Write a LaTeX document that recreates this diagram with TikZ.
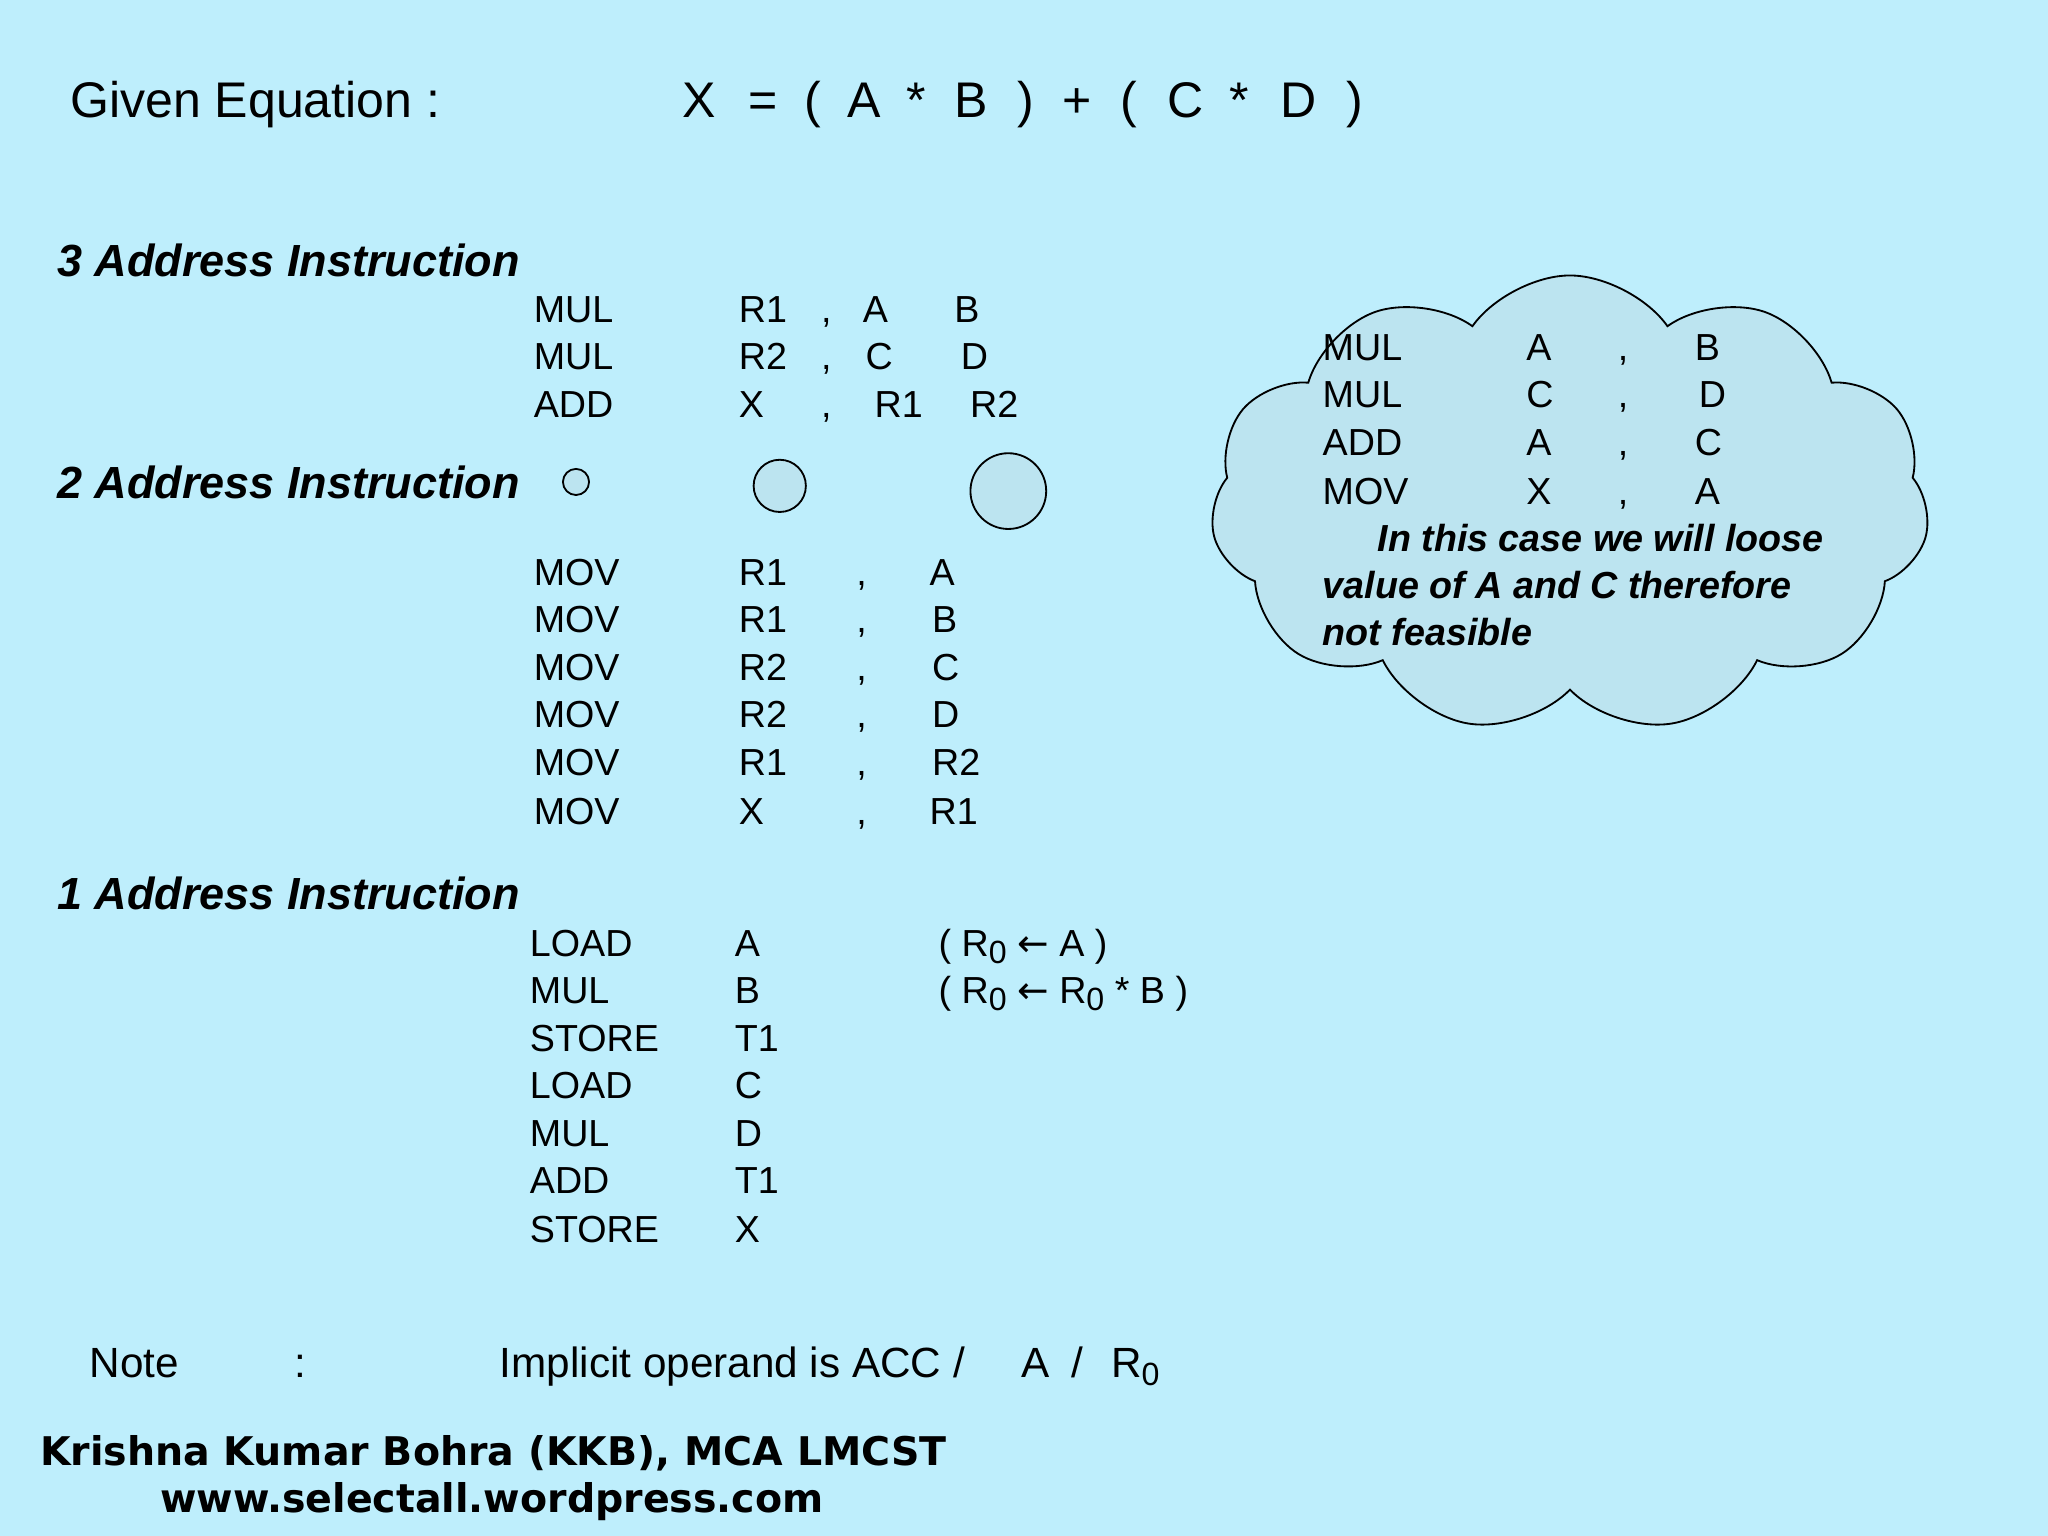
\documentclass[tikz,border=0pt]{standalone}
\usepackage{fontspec}
\setmainfont{Liberation Sans}
\newfontfamily\credfont{DejaVu Sans}
\usetikzlibrary{shapes.symbols}
\definecolor{bg}{RGB}{190,238,252}
\definecolor{cl}{RGB}{188,228,240}
\tikzset{tx/.style={anchor=base west,inner sep=0pt,font=\fontsize{8.2}{9}\selectfont},
 hd/.style={tx,font=\fontsize{9.8}{11}\selectfont\bfseries\itshape},
 big/.style={tx,font=\fontsize{10.9}{12}\selectfont},
 nt/.style={tx,font=\fontsize{9.2}{11}\selectfont},
 cr/.style={tx,font=\fontsize{8.6}{10}\selectfont\credfont\bfseries},
 ci/.style={tx,font=\fontsize{8.2}{9}\selectfont\bfseries\itshape}}
\newcommand\txt[4][tx]{\node[#1] at (#2,#3) {#4};}
\newcommand\sub[1]{\raisebox{-0.35ex}{\scriptsize #1}}
\newcommand\larr{{\credfont ←}}
\begin{document}
\begin{tikzpicture}[x=0.01cm,y=-0.01cm]
\fill[bg] (0,0) rectangle (1568,1176);
\useasboundingbox (0,0) rectangle (1568,1176);
\txt[big]{53}{90}{Given Equation :}
\foreach \x/\s in {522/X,572/=,615/(,648/A,693/*,730/B,778/),813/+,857/(,893/C,941/*,980/D,1030/)} {\txt[big]{\x}{90}{\s}}
\txt[hd]{43}{212}{3 Address Instruction}
\txt[hd]{43}{382}{2 Address Instruction}
\txt[hd]{43}{696}{1 Address Instruction}
% 3 address
\foreach \y/\a/\b/\c/\d/\cx/\dx in {247/MUL/R1/A/B/660/730,283/MUL/R2/C/D/662/735,320/ADD/X/R1/R2/669/742}
 {\txt{408}{\y}{\a}\txt{565}{\y}{\b}\txt{628}{\y}{,}\txt{\cx}{\y}{\c}\txt{\dx}{\y}{\d}}
% circles
\draw[fill=cl] (441,369) circle (10);
\draw[fill=cl] (597,372) circle (20);
\draw[fill=cl] (772,376) circle (29);
% 2 address
\foreach \y/\b/\d/\dx in {448/R1/A/711,484/R1/B/713,521/R2/C/713,557/R2/D/713,594/R1/R2/713,631/X/R1/711}
 {\txt{408}{\y}{MOV}\txt{565}{\y}{\b}\txt{655}{\y}{,}\txt{\dx}{\y}{\d}}
% 1 address
\foreach \y/\a/\b in {732/LOAD/A,768/MUL/B,805/STORE/T1,841/LOAD/C,878/MUL/D,914/ADD/T1,951/STORE/X}
 {\txt{405}{\y}{\a}\txt{562}{\y}{\b}}
\txt{718}{732}{( R\sub{0} \larr\ A )}
\txt{718}{768}{( R\sub{0} \larr\ R\sub{0} * B )}
% cloud
\node[cloud,cloud puffs=11,cloud puff arc=110,aspect=1.6,draw,fill=cl,inner sep=0pt,minimum width=5.5cm,minimum height=3.5cm] (cloud) at (1202,386) {};
\foreach \y/\a/\b/\c/\cx in {276/MUL/A/B/1297,312/MUL/C/D/1300,349/ADD/A/C/1297,386/MOV/X/A/1297}
 {\txt{1012}{\y}{\a}\txt{1168}{\y}{\b}\txt{1238}{\y}{,}\txt{\cx}{\y}{\c}}
\txt[ci]{1054}{422}{In this case we will loose}
\txt[ci]{1012}{458}{value of A and C therefore}
\txt[ci]{1012}{494}{not feasible}
% note
\txt[nt]{68}{1055}{Note}
\txt[nt]{225}{1055}{:}
\txt[nt]{382}{1055}{Implicit operand is ACC /}
\txt[nt]{781}{1055}{A}
\txt[nt]{820}{1055}{/}
\txt[nt]{850}{1055}{R\sub{0}}
\txt[cr]{30}{1122}{Krishna Kumar Bohra (KKB), MCA LMCST}
\txt[cr]{122}{1158}{www.selectall.wordpress.com}
\end{tikzpicture}
\end{document}
